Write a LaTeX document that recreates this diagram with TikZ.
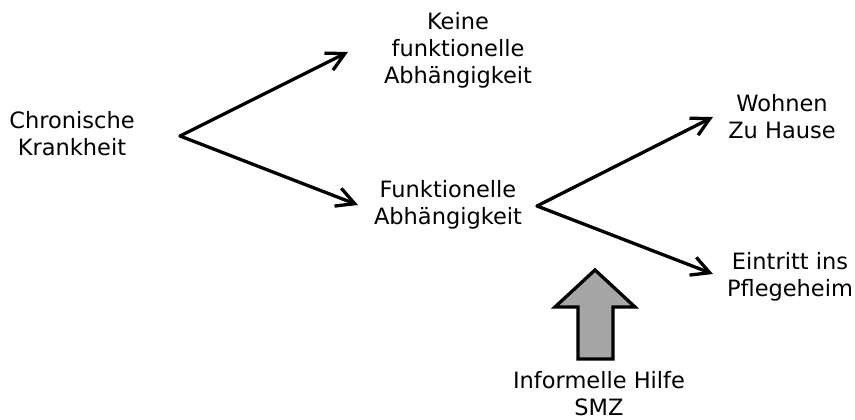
\documentclass[tikz,border=0pt]{standalone}
\usepackage{fontspec}
\setmainfont{DejaVu Sans}
\usetikzlibrary{arrows.meta,positioning,calc}
\definecolor{hilfeGray}{RGB}{166,166,166}

\begin{document}
\begin{tikzpicture}[
    x=1pt, y=-1pt,
    lbl/.style={align=center, font=\fontsize{22.5}{27}\selectfont, inner sep=0pt},
    arr/.style={-{Straight Barb[length=18pt,width=19pt]}, line width=3.3pt, line cap=round},
    bigarr/.style={draw, line width=3.3pt, fill=hilfeGray, line join=miter}
]
\useasboundingbox (0,0) rectangle (855,420);

\node[lbl] (chron) at (72,134) {Chronische\\Krankheit};
\node[lbl] (keine) at (458,50) {Keine\\funktionelle\\Abhängigkeit};
\node[lbl] (funk) at (448,205) {Funktionelle\\Abhängigkeit};
\node[lbl] (wohnen) at (782,117) {Wohnen\\Zu Hause};
\node[lbl] (heim) at (790,277) {Eintritt ins\\Pflegeheim};
\node[lbl] (hilfe) at (599,394) {Informelle Hilfe\\SMZ};

% Verzweigungen
\coordinate (fork1) at (180,136);
\coordinate (toKeine) at (348,52);
\coordinate (toFunk) at (358,205);
\coordinate (fork2) at (537,206);
\coordinate (toWohnen) at (713,117);
\coordinate (toHeim) at (713,274);

\draw[arr] (fork1) -- (toKeine);
\draw[arr] (fork1) -- (toFunk);
\draw[arr] (fork2) -- (toWohnen);
\draw[arr] (fork2) -- (toHeim);

% grosser Pfeil
\coordinate (hilfeTip) at (595,270);
\draw[bigarr] (hilfeTip) -- ++(40,37) -- ++(-22,0) -- ++(0,52) -- ++(-35,0)
    -- ++(0,-52) -- ++(-23,0) -- cycle;
\end{tikzpicture}
\end{document}
